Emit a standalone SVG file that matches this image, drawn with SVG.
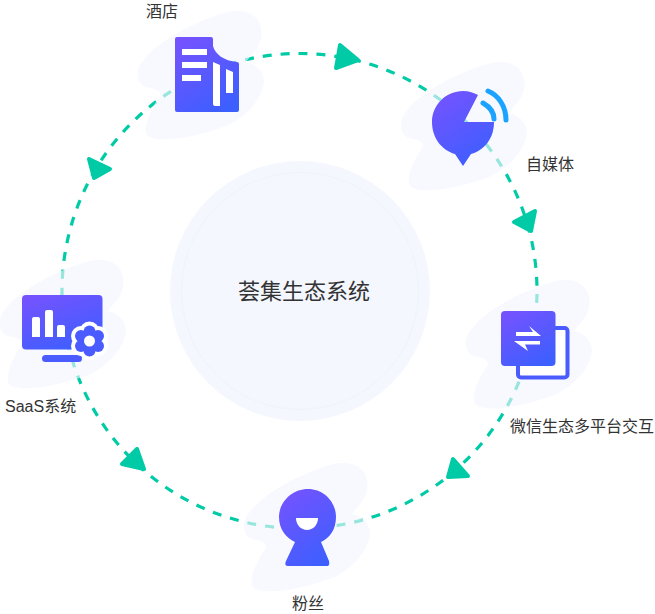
<svg xmlns="http://www.w3.org/2000/svg" xmlns:xlink="http://www.w3.org/1999/xlink" width="655" height="614" viewBox="0 0 655 614">
<style>
text{font-family:"Liberation Sans","Noto Sans CJK SC",sans-serif;fill:#333;font-size:16px}
.dash{fill:none;stroke:#00cba6;stroke-width:3.200;stroke-dasharray:9 8.980;stroke-dashoffset:-3}
.arrow{fill:#00cba6;stroke:#00cba6;stroke-width:4;stroke-linejoin:round}
.blob{fill:#f3f5ff;fill-opacity:.62}
.cut{fill:#fff}
</style>
<defs>
<linearGradient id="g" x1="0.2" y1="0" x2="0.75" y2="1"><stop offset="0" stop-color="#7453ff"/><stop offset="1" stop-color="#3c5fff"/></linearGradient>
<path id="blob" d="M138 72C141 50 190 22 228 12C252 7 264 20 261 38C259 50 248 58 246 62C256 64 264 72 264 82C262 100 245 118 226 126C200 136 160 144 148 136C142 132 148 112 160 96C162 90 152 88 146 87C141 85 137 80 138 72Z"/>
<g id="gear"><circle cx="0" cy="0" r="11"/><circle cx="0" cy="-9.500" r="6"/><circle cx="0" cy="9.500" r="6"/><circle cx="8.500" cy="-5" r="6"/><circle cx="8.500" cy="5" r="6"/><circle cx="-8.500" cy="-5" r="6"/><circle cx="-8.500" cy="5" r="6"/></g>
</defs>
<rect width="655" height="614" fill="#fff"/>
<g id="connectors">
<circle class="dash" cx="299.5" cy="291" r="237.500"/>
<polygon class="arrow" points="340,45 336,68 358,60"/>
<polygon class="arrow" points="535,211 514,222 531,231"/>
<polygon class="arrow" points="453,459 448,477 468,476"/>
<polygon class="arrow" points="137,449 122,464 144,469"/>
<polygon class="arrow" points="89,159 110,169 94,178"/>
</g>
<g id="center"><circle cx="300" cy="291" r="130" fill="#f4f7fe"/><circle cx="300" cy="291" r="118.500" fill="none" stroke="#eff3fc" stroke-width="1"/><text x="304" y="299" text-anchor="middle" style="font-size:22px">荟集生态系统</text></g>
<g id="hotel"><use xlink:href="#blob" class="blob"/>
<path fill="url(#g)" d="M177 37H211Q213 37 213 39V46C215 54 224 61 237 62Q239 62 239 64V110Q239 112 237 112H177Q175 112 175 110V39Q175 37 177 37Z"/>
<path class="cut" d="M182 49H207V55H182ZM182 62H207V68H182ZM182 75H201V81H182ZM213 62L220 65V106H216Q213 106 213 104ZM226 69L233 72V93H226Z"/>
<text x="146" y="17">酒店</text></g>
<g id="media"><use xlink:href="#blob" class="blob" transform="translate(263 51)"/>
<path fill="url(#g)" d="M478 95L464 122H494C494 138 485 150 471 154L463 166L455 154C441 150 432 137 432 122C432 105 446 91 463 91C469 91 474 93 478 95Z"/>
<path d="M483 103C490 107 494 112 494 119" fill="none" stroke="#1ba3ff" stroke-width="5" stroke-linecap="round"/>
<path d="M488 91C498 95 506 106 506 120" fill="none" stroke="#1ba3ff" stroke-width="5" stroke-linecap="round"/>
<text x="526" y="170">自媒体</text></g>
<g id="wechat"><use xlink:href="#blob" class="blob" transform="translate(328 269)"/>
<rect x="518" y="328" width="49.500" height="49.500" rx="3" fill="#fff" stroke="#4a5cff" stroke-width="4"/>
<rect x="501" y="311" width="54.500" height="55" rx="4" fill="url(#g)"/>
<path class="cut" d="M516 332H533L529 326L541 336H516Z"/>
<path class="cut" d="M514 341H540V344.500H525L528 351Z"/>
<text x="510" y="432">微信生态多平台交互</text></g>
<g id="fans"><use xlink:href="#blob" class="blob" transform="translate(106 452)"/>
<path fill="url(#g)" d="M308 489C324 489 336 502 336 517C336 529 330 538 321 542L329 561Q330 566 327 566H288Q284 566 286 561L295 542C286 538 279 529 279 517C279 502 292 489 308 489Z"/>
<path class="cut" d="M296 518H318C318 525 313 530 307 530C301 530 296 525 296 518Z"/>
<text x="292" y="609">粉丝</text></g>
<g id="saas"><use xlink:href="#blob" class="blob" transform="translate(-138 249)"/>
<rect x="22" y="295" width="80.500" height="54.500" rx="4" fill="url(#g)"/>
<rect x="42" y="355" width="40" height="7" rx="3.500" fill="#4a5cff"/>
<path class="cut" d="M34 317H38Q40 317 40 319V337H32V319Q32 317 34 317ZM47 310H51Q53 310 53 312V337H45V312Q45 310 47 310ZM59 325H63Q65 325 65 327V337H57V327Q57 325 59 325Z"/>
<use xlink:href="#gear" transform="translate(89.500 341)" fill="#fff" stroke="#fff" stroke-width="8"/>
<use xlink:href="#gear" transform="translate(89.500 341)" fill="#4a5cff"/>
<circle cx="89.500" cy="341" r="5.500" fill="#fff"/>
<text x="5" y="412">SaaS系统</text></g>
</svg>
